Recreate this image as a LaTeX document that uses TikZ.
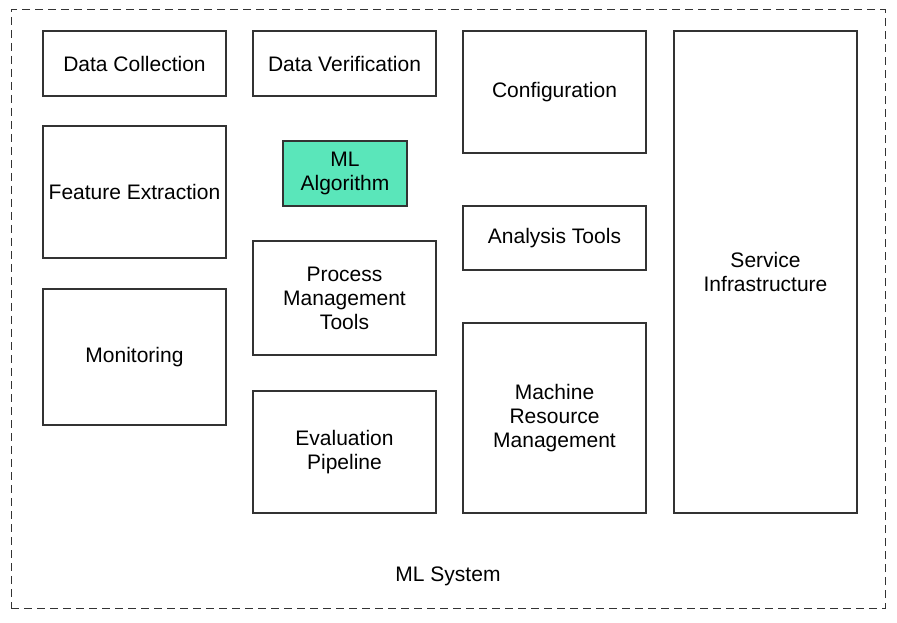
\documentclass[tikz,border=0pt]{standalone}
\usepackage{fontspec}
\setmainfont{Liberation Sans}
\definecolor{mint}{RGB}{90,230,186}
\begin{document}
\begin{tikzpicture}[x=1pt,y=-1pt,
    block/.style={draw=black!80,line width=1.1pt,minimum width=183pt,align=center,
      font=\fontsize{21}{24}\selectfont,inner sep=0pt},
    frame/.style={draw=black!80,line width=1pt,dash pattern=on 8pt off 5pt,
      minimum width=874pt,minimum height=598pt,inner sep=0pt}]
  \useasboundingbox (0,0) rectangle (897,623);
  % outer system frame
  \node[frame] (system) at (448,309) {};
  \node[font=\fontsize{21}{24}\selectfont] (systemlabel) at (448,576) {ML System};
  % first column
  \node[block,minimum height=65pt] (collect) at (134.5,63.5) {Data Collection};
  \node[block,minimum height=132pt] (feature) at (134.5,192) {Feature Extraction};
  \node[block,minimum height=136pt] (monitor) at (134.5,357) {Monitoring};
  % second column
  \node[block,minimum height=65pt] (verify) at (344.5,63.5) {Data Verification};
  \node[block,fill=mint,minimum width=124pt,minimum height=65pt] (mlalgo) at (345,173.5) {ML\\Algorithm};
  \node[block,minimum height=114pt] (process) at (344.5,298) {Process\\Management\\Tools};
  \node[block,minimum height=122pt] (evaluate) at (344.5,452) {Evaluation\\Pipeline};
  % third column
  \node[block,minimum height=122pt] (config) at (554.5,92) {Configuration};
  \node[block,minimum height=64pt] (analysis) at (554.5,238) {Analysis Tools};
  \node[block,minimum height=190pt] (machine) at (554.5,418) {Machine\\Resource\\Management};
  % fourth column
  \node[block,minimum height=482pt] (service) at (765.5,272) {Service\\Infrastructure};
\end{tikzpicture}
\end{document}
